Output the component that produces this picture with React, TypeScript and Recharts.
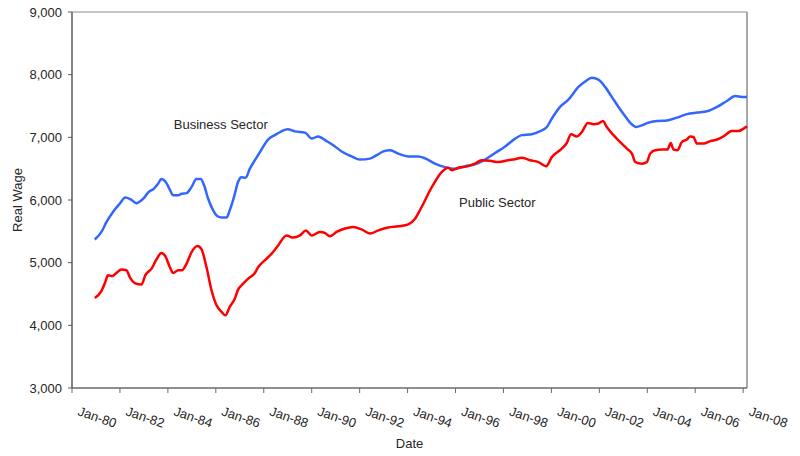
import { LineChart, Line, XAxis, YAxis, ReferenceLine, ReferenceDot } from "recharts"

const FONT = "'Liberation Sans', Arial, sans-serif"
const TEXT = "#262626"

const xTickYears = [1980, 1982, 1984, 1986, 1988, 1990, 1992, 1994, 1996, 1998, 2000, 2002, 2004, 2006, 2008]
const xTickLabels = ["Jan-80", "Jan-82", "Jan-84", "Jan-86", "Jan-88", "Jan-90", "Jan-92", "Jan-94", "Jan-96", "Jan-98", "Jan-00", "Jan-02", "Jan-04", "Jan-06", "Jan-08"]
const yTicks = [3000, 4000, 5000, 6000, 7000, 8000, 9000]

// [year, real wage]
const businessSector: [number, number][] = [
  [1980.95, 5370], [1981.23, 5490], [1981.44, 5650], [1981.71, 5810], [1981.99, 5940],
  [1982.23, 6040], [1982.45, 6010], [1982.69, 5950], [1982.9, 5995], [1983.04, 6050],
  [1983.2, 6130], [1983.42, 6180], [1983.59, 6260], [1983.73, 6335], [1983.94, 6270],
  [1984.08, 6165], [1984.22, 6075], [1984.43, 6075], [1984.57, 6100], [1984.78, 6110],
  [1984.99, 6210], [1985.19, 6335], [1985.37, 6335], [1985.51, 6235], [1985.68, 6020],
  [1985.89, 5835], [1986.07, 5740], [1986.24, 5720], [1986.45, 5720], [1986.58, 5835],
  [1986.76, 6050], [1986.93, 6290], [1987.07, 6365], [1987.24, 6355], [1987.42, 6500],
  [1987.63, 6635], [1987.84, 6765], [1988.18, 6965], [1988.46, 7035], [1988.74, 7095],
  [1988.99, 7130], [1989.3, 7095], [1989.72, 7075], [1990.0, 6980], [1990.27, 7015],
  [1990.62, 6940], [1990.9, 6875], [1991.25, 6775], [1991.67, 6695], [1992.01, 6645],
  [1992.43, 6660], [1992.71, 6715], [1992.99, 6775], [1993.27, 6795], [1993.61, 6740],
  [1994.03, 6695], [1994.45, 6695], [1994.73, 6665], [1995.14, 6580], [1995.56, 6525],
  [1995.98, 6500], [1996.4, 6540], [1996.81, 6570], [1997.23, 6645], [1997.65, 6750],
  [1998.07, 6855], [1998.49, 6980], [1998.76, 7035], [1999.18, 7050], [1999.53, 7100],
  [1999.81, 7165], [2000.02, 7300], [2000.36, 7485], [2000.71, 7600], [2001.13, 7805],
  [2001.41, 7890], [2001.69, 7950], [2001.96, 7920], [2002.24, 7805], [2002.52, 7645],
  [2002.8, 7485], [2003.08, 7335], [2003.29, 7230], [2003.54, 7165], [2003.77, 7190],
  [2004.05, 7235], [2004.4, 7260], [2004.82, 7270], [2005.24, 7315], [2005.65, 7370],
  [2006.07, 7395], [2006.49, 7415], [2006.91, 7485], [2007.32, 7580], [2007.67, 7660],
  [2007.95, 7645], [2008.16, 7645],
]

const publicSector: [number, number][] = [
  [1980.95, 4435], [1981.23, 4550], [1981.39, 4690], [1981.5, 4800], [1981.67, 4785],
  [1981.85, 4835], [1982.06, 4890], [1982.27, 4880], [1982.41, 4770], [1982.62, 4675],
  [1982.9, 4650], [1983.06, 4800], [1983.32, 4905], [1983.52, 5050], [1983.73, 5155],
  [1983.9, 5100], [1984.08, 4930], [1984.22, 4835], [1984.43, 4880], [1984.59, 4880],
  [1984.78, 4985], [1984.99, 5170], [1985.24, 5265], [1985.4, 5215], [1985.61, 4930],
  [1985.82, 4560], [1986.03, 4320], [1986.24, 4215], [1986.4, 4160], [1986.58, 4295],
  [1986.79, 4425], [1986.93, 4570], [1987.14, 4665], [1987.35, 4745], [1987.63, 4835],
  [1987.77, 4930], [1988.05, 5040], [1988.33, 5145], [1988.6, 5275], [1988.95, 5435],
  [1989.23, 5400], [1989.51, 5435], [1989.76, 5515], [1990.0, 5435], [1990.34, 5490],
  [1990.55, 5475], [1990.76, 5420], [1991.04, 5490], [1991.39, 5545], [1991.73, 5570],
  [1992.08, 5530], [1992.43, 5465], [1992.78, 5515], [1993.19, 5560], [1993.61, 5580],
  [1994.03, 5610], [1994.31, 5700], [1994.52, 5840], [1994.73, 5995], [1994.86, 6100],
  [1995.14, 6290], [1995.42, 6445], [1995.7, 6515], [1995.84, 6475], [1996.12, 6515],
  [1996.53, 6540], [1996.81, 6580], [1997.09, 6635], [1997.44, 6625], [1997.79, 6605],
  [1998.2, 6635], [1998.48, 6650], [1998.76, 6675], [1999.11, 6635], [1999.46, 6605],
  [1999.78, 6540], [2000.02, 6685], [2000.43, 6820], [2000.64, 6910], [2000.82, 7050],
  [2001.06, 7015], [2001.27, 7085], [2001.52, 7230], [2001.76, 7210], [2001.96, 7220],
  [2002.15, 7260], [2002.31, 7165], [2002.59, 7035], [2002.87, 6925], [2003.15, 6820],
  [2003.36, 6740], [2003.5, 6605], [2003.78, 6580], [2003.98, 6605], [2004.12, 6740],
  [2004.33, 6795], [2004.61, 6805], [2004.84, 6805], [2004.98, 6910], [2005.09, 6805],
  [2005.26, 6795], [2005.44, 6925], [2005.65, 6965], [2005.79, 7015], [2005.93, 7005],
  [2006.07, 6900], [2006.35, 6900], [2006.63, 6940], [2006.91, 6965], [2007.18, 7015],
  [2007.53, 7100], [2007.81, 7100], [2008.02, 7140], [2008.16, 7175],
]

const X_END = 2008.16

const toRows = (pts: [number, number][]) => pts.map(([year, wage]) => ({ year, wage }))

function DateTick({ x, y, payload }: any) {
  const i = xTickYears.indexOf(payload.value)
  return (
    <g transform={`translate(${x + 5},${y + 20})`}>
      <text transform="rotate(19)" textAnchor="start" fontSize={13} fontFamily={FONT} fill={TEXT}>
        {xTickLabels[i]}
      </text>
    </g>
  )
}

export default function App() {
  const business = toRows(businessSector)
  const pub = toRows(publicSector)

  return (
    <div style={{ position: "absolute", left: 0, top: 0, width: 800, height: 456, background: "#fff" }}>
      <LineChart width={800} height={456} margin={{ top: 12, right: 53, bottom: 28, left: 12 }}>
        <XAxis
          type="number"
          dataKey="year"
          domain={[1980, X_END]}
          ticks={xTickYears}
          interval={0}
          height={40}
          tickSize={5}
          tickLine={{ stroke: "#6a6a6a" }}
          axisLine={{ stroke: "#6a6a6a", strokeWidth: 1.5 }}
          tick={<DateTick />}
          label={({ viewBox }: any) => (
            <text
              x={viewBox.x + viewBox.width / 2}
              y={viewBox.y + 60}
              textAnchor="middle"
              fontSize={13}
              fontFamily={FONT}
              fill={TEXT}
            >
              Date
            </text>
          )}
        />
        <YAxis
          type="number"
          domain={[3000, 9000]}
          ticks={yTicks}
          interval={0}
          width={60}
          tickSize={4}
          tickMargin={6}
          tickLine={{ stroke: "#5a5a5a" }}
          axisLine={{ stroke: "#5a5a5a", strokeWidth: 1.5 }}
          tickFormatter={(v: number) => v.toLocaleString("en-US")}
          tick={{ fontSize: 13, fontFamily: FONT, fill: TEXT }}
          label={({ viewBox }: any) => (
            <text
              x={viewBox.x + 10}
              y={viewBox.y + viewBox.height / 2}
              transform={`rotate(-90, ${viewBox.x + 10}, ${viewBox.y + viewBox.height / 2})`}
              textAnchor="middle"
              fontSize={13}
              fontFamily={FONT}
              fill={TEXT}
            >
              Real Wage
            </text>
          )}
        />
        <ReferenceLine y={9000} stroke="#8c8c8c" strokeWidth={1} />
        <ReferenceLine x={X_END} stroke="#a8a8a8" strokeWidth={2} />
        <Line
          data={business}
          dataKey="wage"
          type="monotone"
          stroke="#3366ff"
          strokeWidth={2.5}
          dot={false}
          isAnimationActive={false}
        />
        <Line
          data={pub}
          dataKey="wage"
          type="monotone"
          stroke="#ff0000"
          strokeWidth={2.5}
          dot={false}
          isAnimationActive={false}
        />
        <ReferenceDot
          x={1984.04}
          y={7208}
          r={0}
          fill="none"
          stroke="none"
          label={{ value: "Business Sector", position: "right", fontSize: 13, fontFamily: FONT, fill: TEXT }}
        />
        <ReferenceDot
          x={1995.94}
          y={5968}
          r={0}
          fill="none"
          stroke="none"
          label={{ value: "Public Sector", position: "right", fontSize: 13, fontFamily: FONT, fill: TEXT }}
        />
      </LineChart>
    </div>
  )
}
